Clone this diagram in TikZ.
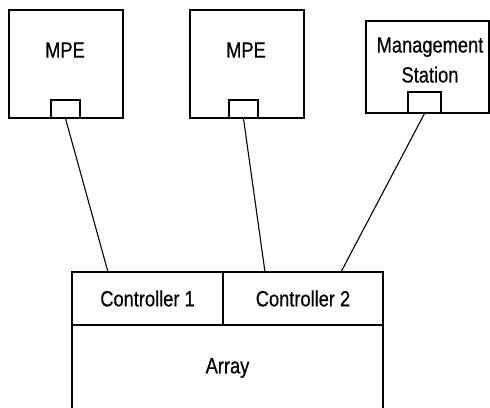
\documentclass[tikz,border=0pt]{standalone}
\usepackage{fontspec}
\setmainfont[FakeStretch=0.83, FakeBold=0.6]{Liberation Sans}

\begin{document}
\begin{tikzpicture}[x=1pt, y=-1pt, line width=1.1pt,
                    box/.style={draw, shape=rectangle, inner sep=0pt},
                    port/.style={draw, shape=rectangle, inner sep=0pt,
                                 minimum width=29pt, minimum height=18pt},
                    every node/.style={font=\fontsize{22}{30}\selectfont,
                                       align=center}]
  \useasboundingbox (0,0) rectangle (490,407);
  % hosts
  \node[box, minimum width=114pt, minimum height=108pt] (mpeA) at (66,64) {};
  \node (mpeAtext) at (65,50) {MPE};
  \node[port] (portA) at (65.5,109) {};
  \node[box, minimum width=114pt, minimum height=108pt] (mpeB) at (247,64) {};
  \node (mpeBtext) at (246,50) {MPE};
  \node[port] (portB) at (243.5,109) {};
  \node[box, minimum width=123pt, minimum height=92pt] (mgmt) at (427.5,67) {};
  \node (mgmttext) at (430,60) {Management\\Station};
  \node[port, minimum width=33pt, minimum height=21pt] (portM) at (424.5,102.5) {};
  % storage
  \node[box, minimum width=151pt, minimum height=53pt] (ctrlA) at (147.5,298.5) {Controller 1};
  \node[box, minimum width=160pt, minimum height=53pt] (ctrlB) at (303,298.5) {Controller 2};
  \node[box, minimum width=311pt, minimum height=90pt, anchor=north] (array) at (227.5,325) {};
  \node (arraytext) at (227.5,368) {Array};
  % links
  \coordinate (inA) at (108,272);
  \coordinate (inB) at (265,272);
  \coordinate (inM) at (341,272);
  \draw (portA.south) -- (inA);
  \draw (portB.south) -- (inB);
  \draw (portM.south) -- (inM);
\end{tikzpicture}
\end{document}
